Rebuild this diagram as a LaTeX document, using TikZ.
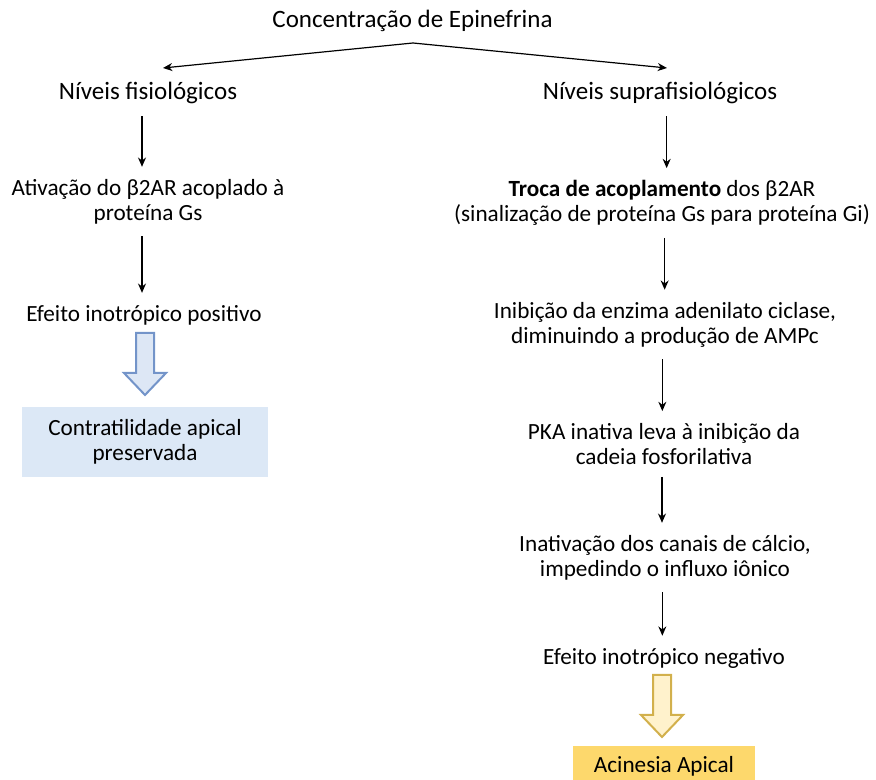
\documentclass[tikz,border=0pt]{standalone}
\usepackage{fontspec}
\setmainfont{Carlito}
\usetikzlibrary{arrows.meta}

\definecolor{bluefill}{HTML}{DCE8F6}
\definecolor{blueedge}{HTML}{7394C9}
\definecolor{arrowbluefill}{HTML}{DDE7F5}
\definecolor{goldfill}{HTML}{FDD86C}
\definecolor{yellowfill}{HTML}{FFF2CC}
\definecolor{yellowedge}{HTML}{D2B04C}

\tikzset{
  hdr/.style={inner sep=0pt, align=center, font=\fontsize{18.75}{22}\selectfont},
  body/.style={inner sep=0pt, align=center, font=\fontsize{17.4}{18.75}\selectfont},
  arr/.style={-{Stealth[length=7pt,width=6pt]}, line width=0.9pt, black},
  flow/.style={arr, shorten <=9pt, shorten >=9pt},
  bluebox/.style={body, fill=bluefill, minimum width=184.5pt, minimum height=52.5pt},
  goldbox/.style={body, fill=goldfill, minimum width=136.5pt, minimum height=30pt},
  bluearrow/.style={fill=arrowbluefill, draw=blueedge, line width=1.5pt, line join=miter},
  yellowarrow/.style={fill=yellowfill, draw=yellowedge, line width=1.5pt, line join=miter},
  hollowdown/.pic={\path[pic actions] (-9,0) -- (-9,40) -- (-21,40) -- (0,62) -- (21,40) -- (9,40) -- (9,0) -- cycle;}
}

\begin{document}
\begin{tikzpicture}[x=0.75pt, y=-0.75pt]
  \useasboundingbox (0,0) rectangle (876,780);
  \clip (0,0) rectangle (876,780);

  % top split
  \node[hdr] (conc) at (412.5,21) {Concentração de Epinefrina};
  \node[hdr] (fis) at (148,93) {Níveis fisiológicos};
  \node[hdr] (sup) at (660,93) {Níveis suprafisiológicos};
  \coordinate (apex) at (413,43);
  \coordinate (tipL) at (163,68);
  \coordinate (tipR) at (667,68);
  \draw[arr] (apex) -- (tipL);
  \draw[arr] (apex) -- (tipR);

  % physiological branch
  \node[body] (ativ) at (148,201.5) {Ativação do β2AR acoplado à\\proteína Gs};
  \node[body] (pos) at (144,315) {Efeito inotrópico positivo};
  \node[bluebox] (pres) at (145,442) {Contratilidade apical\\preservada};
  \draw[flow] ([xshift=-4.5pt]fis.south) -- ([xshift=-4.5pt]fis.south |- ativ.north);
  \draw[flow] ([xshift=-4.5pt]ativ.south) -- ([xshift=-4.5pt]ativ.south |- pos.north);
  \pic[bluearrow] at (145,333) {hollowdown};

  % supraphysiological branch
  \node[body] (troca) at (662,203) {\textbf{Troca de acoplamento} dos β2AR\\(sinalização de proteína Gs para proteína Gi)};
  \node[body] (inib) at (665,324.5) {Inibição da enzima adenilato ciclase,\\diminuindo a produção de AMPc};
  \node[body] (pka) at (664,444) {PKA inativa leva à inibição da\\cadeia fosforilativa};
  \node[body] (inat) at (665,557.5) {Inativação dos canais de cálcio,\\impedindo o influxo iônico};
  \node[body] (neg) at (664,658) {Efeito inotrópico negativo};
  \node[goldbox, anchor=north] (acin) at (664,746) {Acinesia Apical};
  \draw[flow] ([xshift=5pt]sup.south) -- ([xshift=5pt]sup.south |- troca.north);
  \draw[flow] ([xshift=2pt]troca.south) -- ([xshift=2pt]troca.south |- inib.north);
  \draw[flow] ([xshift=-2pt]inib.south) -- ([xshift=-2pt]inib.south |- pka.north);
  \draw[flow] ([xshift=-1.5pt]pka.south) -- ([xshift=-1.5pt]pka.south |- inat.north);
  \draw[flow] ([xshift=-2pt]inat.south) -- ([xshift=-2pt]inat.south |- neg.north);
  \pic[yellowarrow] at (662,675) {hollowdown};
\end{tikzpicture}
\end{document}
